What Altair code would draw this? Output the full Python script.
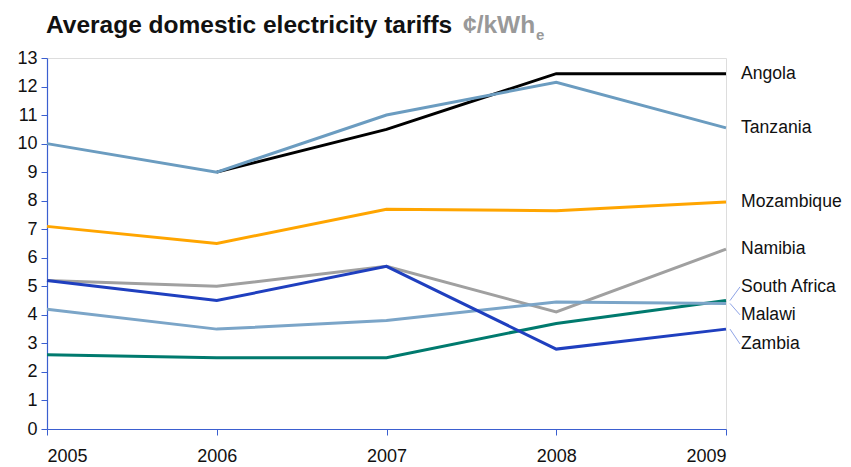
import altair as alt
import pandas as pd

years = [2005, 2006, 2007, 2008, 2009]
angola = [None, 9.0, 10.5, 12.45, 12.45]
tanzania = [10.0, 9.0, 11.0, 12.15, 10.55]
mozambique = [7.1, 6.5, 7.7, 7.65, 7.95]
namibia = [5.2, 5.0, 5.7, 4.1, 6.3]
south_africa = [2.6, 2.5, 2.5, 3.7, 4.5]
malawi = [4.2, 3.5, 3.8, 4.45, 4.4]
zambia = [5.2, 4.5, 5.7, 2.8, 3.5]
y_ticks = list(range(0, 14))

countries = ["Angola", "Tanzania", "Mozambique", "Namibia", "South Africa", "Malawi", "Zambia"]
colors = ["#000000", "#6b9cc0", "#ffa500", "#a0a0a0", "#007a6e", "#7ba5c8", "#1f3fbf"]
label_y = [12.45, 10.55, 7.95, 6.3, 4.98, 4.0, 2.98]
leader = [False, False, False, False, True, True, True]

series = [angola, tanzania, mozambique, namibia, south_africa, malawi, zambia]
rows = []
for c, vals in zip(countries, series):
    for y, v in zip(years, vals):
        if v is not None:
            rows.append({"country": c, "year": y, "value": v})
df = pd.DataFrame(rows)

lab = pd.DataFrame({
    "country": countries,
    "year": [years[-1]] * len(countries),
    "end": [s[-1] for s in series],
    "ly": label_y,
    "leader": leader,
})

AXIS_COLOR = "#3b5fd0"
FONT = "Liberation Sans"

x_axis = alt.Axis(values=years, format="d", title=None, grid=False,
                  domainColor=AXIS_COLOR, tickColor=AXIS_COLOR, tickSize=6,
                  labelFontSize=18, labelColor="#111", labelFont=FONT,
                  labelPadding=12, domainWidth=1.2, labelOverlap=False)
y_axis = alt.Axis(values=y_ticks, title=None, grid=False,
                  domainColor=AXIS_COLOR, tickColor=AXIS_COLOR, tickSize=6,
                  labelFontSize=18, labelColor="#111", labelFont=FONT,
                  labelPadding=4, domainWidth=1.2, labelOverlap=False)
x_scale = alt.Scale(domain=[2005, 2009], nice=False, zero=False)
y_scale = alt.Scale(domain=[0, 13], nice=False)

color = alt.Color("country:N", scale=alt.Scale(domain=countries, range=colors), legend=None)

lines = alt.Chart(df).mark_line(strokeWidth=3, clip=False).encode(
    x=alt.X("year:Q", scale=x_scale, axis=x_axis),
    y=alt.Y("value:Q", scale=y_scale, axis=y_axis),
    color=color)

leaders = alt.Chart(lab).transform_filter("datum.leader").mark_rule(
    color="#8ea3e6", strokeWidth=1, xOffset=4, x2Offset=14
).encode(x=alt.X("year:Q", scale=x_scale, axis=x_axis), x2="year:Q",
         y=alt.Y("end:Q", scale=y_scale, axis=y_axis), y2="ly:Q")

labels = alt.Chart(lab).mark_text(
    align="left", baseline="middle", dx=15, fontSize=17.6, font=FONT, color="#111"
).encode(x=alt.X("year:Q", scale=x_scale, axis=x_axis),
         y=alt.Y("ly:Q", scale=y_scale, axis=y_axis), text="country:N")

title_df = pd.DataFrame({"t": ["Average domestic electricity tariffs"]})
title1 = alt.Chart(title_df).mark_text(
    align="left", baseline="alphabetic", fontSize=24.5, fontWeight="bold", font=FONT, color="#111"
).encode(x=alt.value(-1), y=alt.value(-25), text="t:N")
unit_df = pd.DataFrame({"t": ["¢/kWh"]})
title2 = alt.Chart(unit_df).mark_text(
    align="left", baseline="alphabetic", fontSize=24.5, fontWeight="bold", font=FONT, color="#999999"
).encode(x=alt.value(416), y=alt.value(-25), text="t:N")
sub_df = pd.DataFrame({"t": ["e"]})
title3 = alt.Chart(sub_df).mark_text(
    align="left", baseline="alphabetic", fontSize=15, fontWeight="bold", font=FONT, color="#999999"
).encode(x=alt.value(489), y=alt.value(-18), text="t:N")

chart = alt.layer(lines, leaders, labels, title1, title2, title3).properties(
    width=679, height=371,
    autosize=alt.AutoSizeParams(type="none"),
    padding={"left": 39, "top": 50, "right": 117, "bottom": 40},
).configure_view(stroke=None).configure(background="white")

chart.save("out.html", embed_options={"renderer": "svg", "actions": False})
